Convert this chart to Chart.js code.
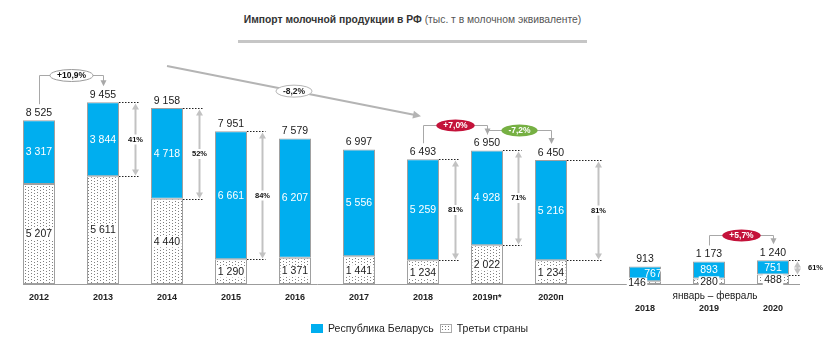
<!DOCTYPE html>
<html><head><meta charset="utf-8">
<script src="https://cdn.jsdelivr.net/npm/chart.js@4/dist/chart.umd.min.js"></script>
<style>
html,body{margin:0;padding:0;background:#fff;}
body{width:825px;height:357px;position:relative;overflow:hidden;font-family:"Liberation Sans",Arial,sans-serif;}
canvas{position:absolute;top:0;}
#cA{left:0;}
#cB{left:600px;}
#title{position:absolute;left:200px;width:425px;top:14px;text-align:center;font-size:10.3px;color:#333;white-space:nowrap;}
#title b{color:#333;}
#title span{color:#555;}
#rule{position:absolute;left:238px;top:40px;width:349px;height:3px;background:#c6c6c6;}
#legend{position:absolute;top:321px;left:311px;font-size:10.5px;color:#222;white-space:nowrap;line-height:14px;}
#legend .sw{display:inline-block;width:12px;height:9px;vertical-align:-1px;margin-right:5px;box-sizing:border-box;}
#legend .blue{background:#00AEEF;}
#legend .dots{background:radial-gradient(circle,#777 0.7px,transparent 0.9px) 0 0/3px 3px,#fff;border:1px solid #aaa;margin-left:6px;}
</style>
</head><body>
<div id="title"><b>Импорт молочной продукции в РФ</b> <span>(тыс. т в молочном эквиваленте)</span></div>
<div id="rule"></div>
<canvas id="cA" width="612" height="357"></canvas>
<canvas id="cB" width="225" height="357"></canvas>
<div id="legend"><span class="sw blue"></span>Республика Беларусь<span class="sw dots"></span>Третьи страны</div>
<script>
// ---------- DATA ----------
const mainYears    = ['2012','2013','2014','2015','2016','2017','2018','2019п*','2020п'];
const mainBelarus  = [3317, 3844, 4718, 6661, 6207, 5556, 5259, 4928, 5216];
const mainThird    = [5207, 5611, 4440, 1290, 1371, 1441, 1234, 2022, 1234];
const mainTotals   = [8525, 9455, 9158, 7951, 7579, 6997, 6493, 6950, 6450];
const mainShare    = ['', '41%', '52%', '84%', '', '', '81%', '71%', '81%'];

const janFebYears   = ['2018','2019','2020'];
const janFebBelarus = [767, 893, 751];
const janFebThird   = [146, 280, 488];
const janFebTotals  = [913, 1173, 1240];
const janFebShare   = ['', '', '61%'];
const janFebPeriod  = 'январь – февраль';

// growth callouts: [from category, to category, label]
const mainGrowth   = [['2012','2013','+10,9%'], ['2018','2019п*','+7,0%'], ['2019п*','2020п','-7,2%']];
const mainTrend    = ['2014','2018','-8,2%'];
const janFebGrowth = [['2019','2020','+5,7%']];

// ---------- STYLE ----------
const BLUE = '#00AEEF';
const FONT = '"Liberation Sans", Arial, sans-serif';
const fmt = v => String(v).replace(/\B(?=(\d{3})+(?!\d))/g, ' ');

const pc = document.createElement('canvas'); pc.width = 6; pc.height = 6;
const pctx = pc.getContext('2d');
pctx.fillStyle = '#fff'; pctx.fillRect(0,0,6,6);
pctx.fillStyle = '#808080';
[[1,0],[1,3],[4,1],[4,4]].forEach(([a,b]) => pctx.fillRect(a,b,1,1));
const dotPattern = pctx.createPattern(pc, 'repeat');

function arrowHead(ctx, x, y, dir, w, h, color){
  ctx.fillStyle = color;
  ctx.beginPath();
  ctx.moveTo(x, y);
  ctx.lineTo(x - w/2, y - dir*h);
  ctx.lineTo(x + w/2, y - dir*h);
  ctx.closePath(); ctx.fill();
}
function pill(ctx, cx, cy, text, kind){
  ctx.font = 'bold 8.5px ' + FONT;
  const tw = ctx.measureText(text).width;
  const rx = tw/2 + 7, ry = 6;
  ctx.beginPath(); ctx.ellipse(cx, cy, rx, ry, 0, 0, Math.PI*2);
  if (kind === 'up'){ ctx.fillStyle = '#C4123A'; ctx.fill(); }
  else if (kind === 'down'){ ctx.fillStyle = '#76B043'; ctx.fill(); }
  else { ctx.fillStyle = '#fff'; ctx.fill(); ctx.strokeStyle = '#9a9a9a'; ctx.lineWidth = 1; ctx.stroke(); }
  ctx.fillStyle = (kind === 'plain') ? '#111' : '#fff';
  ctx.textAlign = 'center'; ctx.textBaseline = 'middle';
  ctx.fillText(text, cx, cy + 0.5);
}

const overlay = {
  id: 'overlay',
  afterDatasetsDraw(chart, args, o){
    const ctx = chart.ctx;
    const tMeta = chart.getDatasetMeta(0), bMeta = chart.getDatasetMeta(1);
    const cats = chart.data.labels;
    const totals = o.totals;
    const n = cats.length;
    ctx.save();
    const base = tMeta.data[0].base;
    ctx.strokeStyle = '#9c9c9c'; ctx.lineWidth = 1;
    ctx.beginPath();
    const bl = o.baseFromBar ? tMeta.data[0].x - tMeta.data[0].width/2 : 0;
    const br = o.baseToEdge ? chart.width : tMeta.data[n-1].x + tMeta.data[n-1].width/2 + o.baseExtra;
    ctx.moveTo(bl, Math.round(base) + 0.5); ctx.lineTo(br, Math.round(base) + 0.5); ctx.stroke();

    const labelY = i => bMeta.data[i].y - 7;
    ctx.font = '10.5px ' + FONT; ctx.textAlign = 'center'; ctx.textBaseline = 'middle';
    for (let i = 0; i < n; i++){
      const t = tMeta.data[i], b = bMeta.data[i];
      const nudge = (o.nudge && o.nudge[i]) || [0,0];
      ctx.fillStyle = '#1a1a1a';
      ctx.fillText(fmt(totals[i]), b.x, labelY(i));
      ctx.fillStyle = '#fff';
      ctx.fillText(fmt(chart.data.datasets[1].data[i]), b.x + nudge[1], (b.y + b.base)/2 + 0.5);
      const txt = fmt(chart.data.datasets[0].data[i]);
      const tw = ctx.measureText(txt).width;
      const ty = (t.y + t.base)/2 + 0.5, tx = t.x + nudge[0];
      ctx.fillStyle = '#fff';
      ctx.fillRect(tx - tw/2 - 1.5, ty - 5.5, tw + 3, 11);
      ctx.fillStyle = '#1a1a1a';
      ctx.fillText(txt, tx, ty);
    }

    o.share.forEach((s, i) => {
      if (!s) return;
      const b = bMeta.data[i];
      const ax = Math.round(b.x + o.shareOffset[i]) + 0.5;
      const yt = Math.round(b.y) + 0.5, yb = Math.round(b.base) + 0.5;
      ctx.strokeStyle = '#222'; ctx.lineWidth = 1; ctx.setLineDash([1.5, 1.5]);
      ctx.beginPath();
      ctx.moveTo(b.x + b.width/2, yt); ctx.lineTo(ax + 3, yt);
      ctx.moveTo(b.x + b.width/2, yb); ctx.lineTo(ax + 3, yb);
      ctx.stroke(); ctx.setLineDash([]);
      const ac = '#c2c2c2';
      ctx.strokeStyle = ac; ctx.lineWidth = 2;
      ctx.beginPath(); ctx.moveTo(ax, yt + 5); ctx.lineTo(ax, yb - 5); ctx.stroke();
      arrowHead(ctx, ax, yt + 1, -1, 7, 6, ac);
      arrowHead(ctx, ax, yb - 1, 1, 7, 6, ac);
      ctx.font = 'bold 7.5px ' + FONT;
      const tw = ctx.measureText(s).width;
      const my = (yt + yb)/2;
      if (o.shareOutside && o.shareOutside[i]){
        ctx.fillStyle = '#111'; ctx.textAlign = 'center';
        ctx.fillText(s, ax + o.shareOutside[i], my);
      } else {
        ctx.fillStyle = '#fff'; ctx.fillRect(ax - tw/2 - 1, my - 5, tw + 2, 10);
        ctx.fillStyle = '#111'; ctx.textAlign = 'center';
        ctx.fillText(s, ax, my);
      }
    });

    const gc = '#a8a8a8';
    o.growth.forEach(([from, to, text], k) => {
      const i1 = cats.indexOf(from), i2 = cats.indexOf(to);
      const x1 = Math.round(bMeta.data[i1].x) + 0.5, x2 = Math.round(bMeta.data[i2].x) + 0.5;
      const y1 = labelY(i1) - 9, y2 = labelY(i2) - 9;
      const st = o.growthStyle[k];
      const level = Math.round(Math.min(y1, y2) - st.gap) + 0.5;
      ctx.strokeStyle = gc; ctx.lineWidth = 1;
      ctx.beginPath();
      ctx.moveTo(x1, y1); ctx.lineTo(x1, level); ctx.lineTo(x2, level); ctx.lineTo(x2, y2 - 5);
      ctx.stroke();
      arrowHead(ctx, x2, y2, 1, 6, 6, gc);
      pill(ctx, (x1 + x2)/2, level, text, text.startsWith('+') ? st.pos : 'down');
    });

    if (o.trend){
      const [from, to, text] = o.trend;
      const i1 = cats.indexOf(from), i2 = cats.indexOf(to);
      const x1 = bMeta.data[i1].x, y1 = labelY(i1) - 35;
      const x2 = bMeta.data[i2].x - 2, y2 = labelY(i2) - 36;
      const ang = Math.atan2(y2 - y1, x2 - x1);
      ctx.strokeStyle = '#b4b4b4'; ctx.lineWidth = 2;
      ctx.beginPath(); ctx.moveTo(x1, y1);
      ctx.lineTo(x2 - 6*Math.cos(ang), y2 - 6*Math.sin(ang)); ctx.stroke();
      ctx.fillStyle = '#b4b4b4';
      ctx.beginPath();
      ctx.moveTo(x2, y2);
      ctx.lineTo(x2 - 8*Math.cos(ang) + 4*Math.sin(ang), y2 - 8*Math.sin(ang) - 4*Math.cos(ang));
      ctx.lineTo(x2 - 8*Math.cos(ang) - 4*Math.sin(ang), y2 - 8*Math.sin(ang) + 4*Math.cos(ang));
      ctx.closePath(); ctx.fill();
      ctx.font = 'bold 8.5px ' + FONT;
      const tw = ctx.measureText(text).width;
      const cx = (x1 + x2)/2, cy = (y1 + y2)/2;
      ctx.beginPath(); ctx.ellipse(cx, cy, tw/2 + 7, 6, 0, 0, Math.PI*2);
      ctx.fillStyle = '#fff'; ctx.fill(); ctx.strokeStyle = '#b4b4b4'; ctx.lineWidth = 1; ctx.stroke();
      ctx.fillStyle = '#222'; ctx.textAlign = 'center'; ctx.textBaseline = 'middle';
      ctx.fillText(text, cx, cy + 0.5);
    }

    const xs = chart.scales.x;
    ctx.fillStyle = '#222'; ctx.textAlign = 'center'; ctx.textBaseline = 'middle';
    if (o.period){
      ctx.font = '10px ' + FONT;
      ctx.fillText(o.period, xs.getPixelForValue(1) + 6, base + 12);
    }
    ctx.font = 'bold 9px ' + FONT;
    cats.forEach((c, i) => ctx.fillText(c, xs.getPixelForValue(i), base + o.catDy));
    ctx.restore();
  }
};

function makeChart(id, labels, third, belarus, padL, padR, ov){
  return new Chart(document.getElementById(id), {
    type: 'bar',
    data: { labels, datasets: [
      { label: 'Третьи страны', data: third, backgroundColor: dotPattern, borderColor: '#a0a0a0', borderWidth: 1, borderSkipped: false },
      { label: 'Республика Беларусь', data: belarus, backgroundColor: BLUE, borderColor: '#a0a0a0', borderWidth: 1, borderSkipped: false }
    ]},
    options: {
      responsive: false, animation: false, devicePixelRatio: 1,
      layout: { padding: { left: padL, right: padR, top: 15, bottom: 73 } },
      datasets: { bar: { categoryPercentage: 1, barPercentage: 0.5 } },
      scales: {
        x: { stacked: true, display: false },
        y: { stacked: true, display: false, min: 0, max: 14000 }
      },
      plugins: { legend: { display: false }, tooltip: { enabled: false }, overlay: ov }
    },
    plugins: [overlay]
  });
}

makeChart('cA', mainYears, mainThird, mainBelarus, 7, 29, {
  totals: mainTotals, share: mainShare,
  shareOffset: [0, 32, 32, 31, 0, 0, 32, 31, 47],
  growth: mainGrowth,
  growthStyle: [{gap: 11, pos: 'plain'}, {gap: 9, pos: 'up'}, {gap: 4, pos: 'down'}],
  trend: mainTrend,
  baseFromBar: true, baseToEdge: true, catDy: 14
});
makeChart('cB', janFebYears, janFebThird, janFebBelarus, 13, 20, {
  totals: janFebTotals, share: janFebShare,
  shareOffset: [0, 0, 24], shareOutside: [0, 0, 18],
  growth: janFebGrowth,
  growthStyle: [{gap: 9, pos: 'up'}],
  nudge: [[-8, 8], [0, 0], [0, 0]],
  baseFromBar: false, baseToEdge: false, baseExtra: 11,
  period: janFebPeriod, catDy: 25
});
</script>
</body></html>
